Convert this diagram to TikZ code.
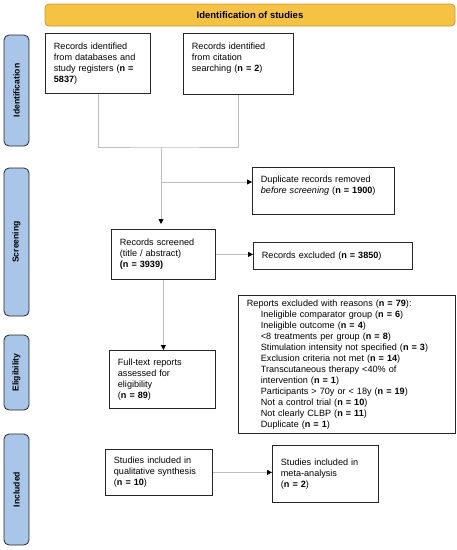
\documentclass[tikz,border=0pt]{standalone}
\usepackage{fontspec}
\setmainfont{Liberation Sans}
\usetikzlibrary{arrows.meta}
\definecolor{hdrfill}{HTML}{F5C243}
\definecolor{hdrline}{HTML}{C79A2E}
\definecolor{sidefill}{HTML}{A9C5E8}
\definecolor{linkgray}{HTML}{BDBDBD}
\newcommand\rsn{\hspace*{14pt}}

\begin{document}
\begin{tikzpicture}[x=1pt,y=-1pt,>={Triangle[length=5pt,width=5pt,color=black]}]
  \tikzstyle{box}=[draw=black!85,line width=0.8pt,anchor=north west,align=left,inner xsep=8.5pt,inner ysep=0pt,font=\fontsize{9.1}{11}\selectfont]
  \tikzstyle{phase}=[draw=black!85,line width=0.8pt,fill=sidefill,rounded corners=5pt,rotate=90,minimum height=25pt,font=\bfseries\fontsize{8.6}{10}\selectfont]
  \tikzstyle{link}=[draw=linkgray,line width=0.8pt]
  \useasboundingbox (0,0) rectangle (457,550);
  % header and phases
  \node[draw=hdrline,fill=hdrfill,rounded corners=4pt,line width=0.8pt,minimum width=410pt,minimum height=22pt,font=\bfseries\fontsize{9.5}{11}\selectfont] (head) at (250,15) {Identification of studies};
  \node[phase,minimum width=111pt] (pid) at (16.5,90.5) {Identification};
  \node[phase,minimum width=148pt] (psc) at (16.5,242) {Screening};
  \node[phase,minimum width=75pt] (pel) at (16.5,372.5) {Eligibility};
  \node[phase,minimum width=111pt] (pin) at (16.5,489.5) {Included};
  % boxes
  \node[box,text width=88pt,minimum height=60pt] (dbs) at (45,33) {Records identified\\from databases and\\study registers (\textbf{n =}\\\textbf{5837})};
  \node[box,text width=93pt,minimum height=61pt,text depth=35pt] (cit) at (183,33) {Records identified\\from citation\\searching (\textbf{n = 2})};
  \node[box,text width=125pt,minimum height=47pt,text depth=22.5pt] (dup) at (252,167) {Duplicate records removed\\\textit{before screening} (\textbf{n = 1900})};
  \node[box,text width=87pt,minimum height=50pt] (scr) at (111,229) {Records screened\\(title / abstract)\\\textbf{(n = 3939)}};
  \node[box,text width=142pt,minimum height=27pt] (exc) at (253,242) {Records excluded (\textbf{n = 3850})};
  \node[box,text width=89pt,minimum height=58pt] (ful) at (109,350) {Full-text reports\\assessed for\\eligibility\\(\textbf{n = 89})};
  \node[box,text width=200pt,minimum height=138pt] (rea) at (238,295) {Reports excluded with reasons (\textbf{n = 79}):\\
    \rsn Ineligible comparator group (\textbf{n = 6})\\
    \rsn Ineligible outcome (\textbf{n = 4})\\
    \rsn <8 treatments per group (\textbf{n = 8})\\
    \rsn Stimulation intensity not specified (\textbf{n = 3})\\
    \rsn Exclusion criteria not met (\textbf{n = 14})\\
    \rsn Transcutaneous therapy <40\% of\\
    \rsn intervention (\textbf{n = 1})\\
    \rsn Participants > 70y or < 18y (\textbf{n = 19})\\
    \rsn Not a control trial (\textbf{n = 10})\\
    \rsn Not clearly CLBP (\textbf{n = 11})\\
    \rsn Duplicate (\textbf{n = 1})};
  \node[box,text width=90pt,minimum height=46pt] (qua) at (105,449) {Studies included in\\qualitative synthesis\\(\textbf{n = 10})};
  \node[box,text width=89pt,minimum height=57pt] (met) at (272,445) {Studies included in\\meta-analysis\\(\textbf{n = 2})};
  % connectors
  \coordinate (join) at (161,147);
  \coordinate (fork) at (161,182);
  \draw[link] (dbs.south) |- (join) -| (cit.south);
  \draw[link,->,shorten >=5pt] (join) -- (join |- scr.north);
  \draw[link,->] (fork) -- (fork -| dup.west);
  \draw[link,->] (scr.east) -- (scr.east -| exc.west);
  \draw[link,->] (scr.south) -- (scr.south |- ful.north);
  \draw[link,->] (qua.east) -- (qua.east -| met.west);
\end{tikzpicture}
\end{document}
